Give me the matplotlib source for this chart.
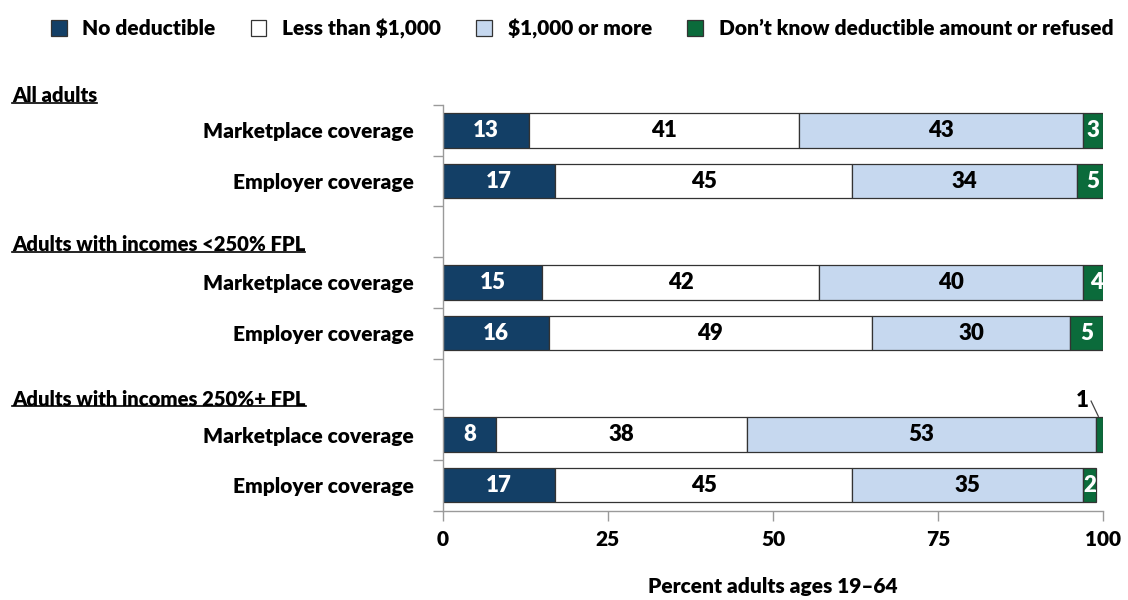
import matplotlib.pyplot as plt
import matplotlib.transforms as mtransforms
from matplotlib.patches import Patch
import numpy as np

plt.rcParams['font.family'] = ['Lato', 'DejaVu Sans']
plt.rcParams['font.weight'] = 'bold'

# --- data ---------------------------------------------------------------
groups = ["All adults", "Adults with incomes <250% FPL", "Adults with incomes 250%+ FPL"]
bar_labels = ["Marketplace coverage", "Employer coverage"] * 3
series_names = ["No deductible", "Less than $1,000", "$1,000 or more",
                "Don\u2019t know deductible amount or refused"]
no_deductible = [13, 17, 15, 16, 8, 17]
less_than_1000 = [41, 45, 42, 49, 38, 45]
over_1000 = [43, 34, 40, 30, 53, 35]
dont_know = [3, 5, 4, 5, 1, 2]

colors = ["#133f66", "#ffffff", "#c6d8ef", "#0b6b3b"]
text_colors = ["white", "black", "black", "white"]

# two bars per group, with an empty slot between groups
ypos = [0, 1, 3, 4, 6, 7]

fig = plt.figure(figsize=(11.28, 6.0), dpi=100)
ax = fig.add_axes([0.3927, 0.149, 0.5851, 0.676])

series = [no_deductible, less_than_1000, over_1000, dont_know]
left = np.zeros(len(ypos))
for vals, col, tcol in zip(series, colors, text_colors):
    vals = np.array(vals, dtype=float)
    ax.barh(ypos, vals, left=left, height=0.68, color=col,
            edgecolor="#333333", linewidth=0.9)
    for y, l, v in zip(ypos, left, vals):
        if v >= 2:
            ax.text(l + v / 2, y, f"{v:.0f}", ha="center", va="center",
                    color=tcol, fontsize=16, fontweight="heavy")
        else:
            # tiny segment: label above the bar, joined by a short leader line
            xm = l + v / 2
            ax.text(xm - 2.6, y - 0.68, f"{v:.0f}", ha="center", va="center",
                    fontsize=16, fontweight="heavy", color="black", clip_on=False)
            ax.plot([xm - 1.3, xm - 0.2], [y - 0.66, y - 0.36], color="#444444",
                    lw=0.9, clip_on=False)
    left += vals

ax.set_xlim(0, 100)
ax.set_ylim(7.5, -0.5)

# x axis
ax.set_xticks([0, 25, 50, 75, 100])
ax.set_xticklabels(["0", "25", "50", "75", "100"], fontsize=15, fontweight="heavy")
ax.tick_params(axis="x", length=7, width=1, color="#9a9a9a", pad=7)
ax.set_xlabel("Percent adults ages 19\u201364", fontsize=15, fontweight="heavy", labelpad=20)

# y axis: boundary ticks plus category labels centred on the bars
ax.set_yticks(np.arange(-0.5, 8.0, 1.0))
ax.set_yticklabels([])
ax.set_yticks(ypos, minor=True)
ax.set_yticklabels(bar_labels, minor=True, fontsize=15, fontweight="heavy")
ax.tick_params(axis="y", which="major", length=7, width=1, color="#9a9a9a")
ax.tick_params(axis="y", which="minor", length=0, pad=21)

for side in ["top", "right"]:
    ax.spines[side].set_visible(False)
for side in ["left", "bottom"]:
    ax.spines[side].set_color("#9a9a9a")
    ax.spines[side].set_linewidth(1)

# group headers, underlined
trans = mtransforms.blended_transform_factory(fig.transFigure, ax.transData)
header_y = [-0.68, 2.26, 5.3]
fig.canvas.draw()
renderer = fig.canvas.get_renderer()
for name, hy in zip(groups, header_y):
    t = fig.text(12 / 1128, hy, name, transform=trans, ha="left", va="center",
                 fontsize=14.6, fontweight="heavy")
    bb = t.get_window_extent(renderer=renderer).transformed(fig.transFigure.inverted())
    fig.add_artist(plt.Line2D([bb.x0, bb.x1], [bb.y0 + 0.004, bb.y0 + 0.004],
                              transform=fig.transFigure, color="black", lw=1.2))

handles = [Patch(facecolor=c, edgecolor="#333333", linewidth=0.9) for c in colors]
fig.legend(handles, series_names, loc="upper center", bbox_to_anchor=(0.516, 1.0),
           ncol=4, frameon=False, prop={"size": 15, "weight": "heavy"},
           handlelength=0.75, handleheight=0.85, handletextpad=0.75, columnspacing=1.7)

fig.savefig("out.png", dpi=100)
